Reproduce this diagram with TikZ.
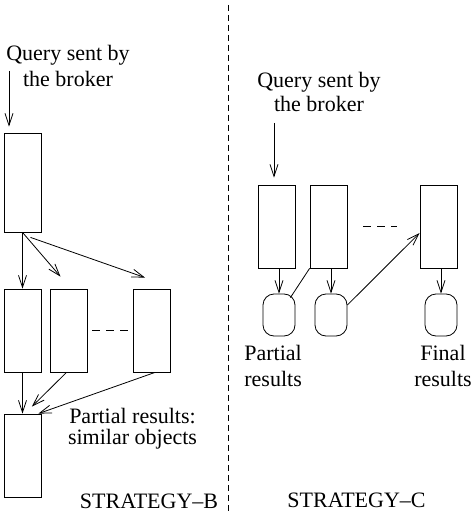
\documentclass[tikz,border=0pt]{standalone}
\usepackage{fontspec}
\setmainfont{Liberation Serif}
\usetikzlibrary{arrows.meta}

\begin{document}
\begin{tikzpicture}[x=1pt,y=-1pt,line width=0.8pt]
\tikzstyle{every node}+=[inner sep=0pt,font=\fontsize{22}{26}\selectfont]
\tikzstyle{box}=[draw,minimum width=37pt,minimum height=83pt]
\tikzstyle{res}=[draw,rounded corners=11pt,minimum width=32pt,minimum height=42pt]
\tikzstyle{arr}=[-{Straight Barb[length=12pt,width=8pt]}]
\useasboundingbox (0,0) rectangle (474,526);
% separator
\draw [dash pattern=on 6pt off 4pt] (228,5) -- (228,512);
% strategy B
\node [align=center] (qB) at (68,66) {Query sent by\\the broker};
\coordinate (qBa) at (9,71);
\node [box,minimum height=99pt] (b1) at (22.5,182.5) {};
\node [box] (b2a) at (22.5,330.5) {};
\node [box] (b2b) at (68.5,330.5) {};
\node [box] (b2c) at (152,330.5) {};
\node [box] (b3) at (22.5,455.5) {};
\draw [arr] (qBa) -- ([yshift=6pt]qBa |- b1.north);
\draw [arr] (b1.south) -- (b2a.north);
\draw [arr] (b1.south) -- ([xshift=-8pt,yshift=12pt]b2b.north);
\draw [arr] ([xshift=8pt,yshift=-5pt]b1.south) -- ([xshift=-7pt,yshift=11pt]b2c.north);
\draw [dash pattern=on 8pt off 6pt] ([xshift=5pt]b2b.east) -- ([xshift=-5pt]b2c.west);
\draw [arr] (b2a.south) -- (b3.north);
\draw [arr] ([xshift=-2pt]b2b.south) -- ([xshift=-9.5pt,yshift=7pt]b3.north east);
\draw [arr] ([xshift=3pt]b2c.south) -- ([xshift=-3pt]b3.north east);
\node [align=center,font=\fontsize{22}{21}\selectfont] (simB) at (132.5,429) {Partial results:\\similar objects};
\node [anchor=base] (labB) at (149,508) {STRATEGY–B};
% strategy C
\node [align=center,font=\fontsize{22}{24}\selectfont] (qC) at (319,92) {Query sent by\\the broker};
\coordinate (qCa) at (274,123);
\node [box] (c1) at (277,226.5) {};
\node [box] (c2) at (328.5,226.5) {};
\node [box] (c3) at (438.5,226.5) {};
\node [res] (r1) at (279,315) {};
\node [res] (r2) at (331,315) {};
\node [res] (r3) at (441,315) {};
\draw [arr] (qCa) -- ([yshift=7pt]qCa |- c1.north);
\draw [dash pattern=on 8pt off 6pt] ([xshift=16pt]c2.east) -- ([xshift=-23pt]c3.west);
\draw [arr] (r1.north |- c1.south) -- (r1.north);
\draw [arr] (r2.north |- c2.south) -- (r2.north);
\draw [arr] (r3.north |- c3.south) -- (r3.north);
\draw (c2.south west) -- ([xshift=-5pt,yshift=-4pt]r1.north east);
\draw [arr] ([yshift=10pt]r2.east) -- ([yshift=-6.5pt]c3.west);
\node [align=left,anchor=west] (parC) at (244,366) {Partial\\results};
\node [align=center] (finC) at (443,366) {Final\\results};
\node [anchor=base] (labC) at (356.5,507) {STRATEGY–C};
\end{tikzpicture}
\end{document}
